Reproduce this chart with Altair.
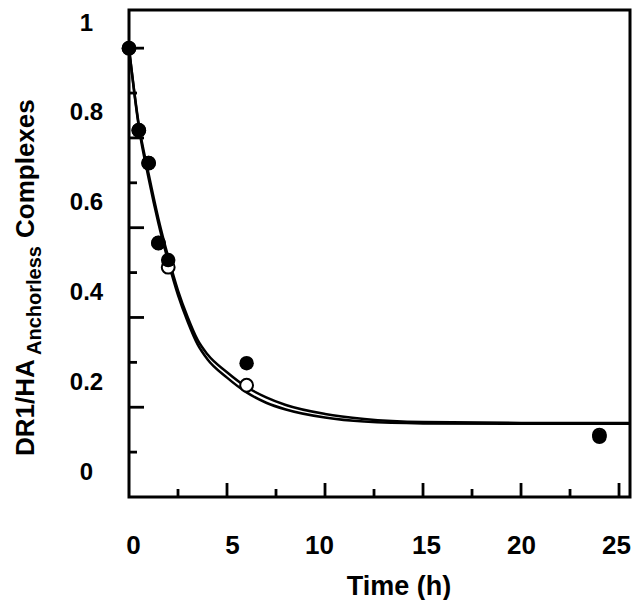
import altair as alt
import pandas as pd

# ---- data ----
pt_t = [0, 0.5, 1, 1.5, 2, 6, 24]
filled_v = [1.0, 0.817, 0.744, 0.566, 0.528, 0.298, 0.134]
open_v = [1.0, 0.817, 0.744, 0.566, 0.512, 0.249, 0.138]

fit_t = [0, 0.5, 1, 1.5, 2, 2.5, 3, 3.5, 4, 5, 6, 7, 8, 10, 12, 15, 20, 26]
fit_filled = [1.0, 0.83, 0.72, 0.62, 0.535, 0.46, 0.40, 0.35, 0.318, 0.278,
              0.245, 0.222, 0.205, 0.185, 0.174, 0.167, 0.165, 0.165]
fit_open = [1.0, 0.825, 0.71, 0.61, 0.525, 0.45, 0.39, 0.34, 0.307, 0.266,
            0.233, 0.21, 0.195, 0.177, 0.168, 0.164, 0.163, 0.163]

x_labels = [0, 5, 10, 15, 20, 25]
x_label_shift = [4, 5, -6, 3, 0, -3]
x_major = [5, 10, 15, 20, 25]
x_minor = [2.5, 7.5, 12.5, 17.5, 22.5]
y_labels = [0, 0.2, 0.4, 0.6, 0.8, 1.0]
y_major = [0.2, 0.4, 0.6, 0.8, 1.0]
y_minor = [0.1, 0.3, 0.5, 0.7, 0.9]

X_MAX = 25.56
Y_MAX = 1.085
W, H = 501, 487
FONT = "Liberation Sans"

xs = alt.Scale(domain=[0, X_MAX], nice=False, zero=False)
ys = alt.Scale(domain=[0, Y_MAX], nice=False, zero=False)

pts = pd.DataFrame({"t": pt_t, "filled": filled_v, "open": open_v})
fits = pd.DataFrame({"t": fit_t, "filled": fit_filled, "open": fit_open})

def X(f):
    return alt.X(f, scale=xs, title=None)

def Y(f):
    return alt.Y(f, scale=ys, title=None)

line_f = alt.Chart(fits).mark_line(color="black", strokeWidth=2.5, interpolate="monotone", clip=True).encode(
    x=X("t:Q"), y=Y("filled:Q"))
line_o = alt.Chart(fits).mark_line(color="black", strokeWidth=2.5, interpolate="monotone", clip=True).encode(
    x=X("t:Q"), y=Y("open:Q"))

open_pts = alt.Chart(pts).mark_point(shape="circle", filled=True, fill="white", stroke="black",
                                      strokeWidth=2, size=165, opacity=1).encode(
    x=X("t:Q"), y=Y("open:Q"))

x_offset = {
    "condition": [{"test": f"datum.value == {v}", "value": s} for v, s in zip(x_labels, x_label_shift) if s != 0],
    "value": 0,
}

filled_pts = alt.Chart(pts).mark_point(shape="circle", filled=True, color="black", size=210, opacity=1).encode(
    x=alt.X("t:Q", scale=xs, title=None,
            axis=alt.Axis(values=x_labels, ticks=False, tickSize=0, domain=False, grid=False,
                          labelFont=FONT, labelFontSize=26, labelFontWeight="bold", labelColor="black",
                          labelBaseline="alphabetic", labelPadding=56, labelFlush=False,
                          labelOffset=x_offset)),
    y=alt.Y("filled:Q", scale=ys, title=None,
            axis=alt.Axis(values=y_labels, format="~g", ticks=False, tickSize=0, domain=False, grid=False,
                          labelFont=FONT, labelFontSize=24, labelFontWeight="bold", labelColor="black",
                          labelAlign="center", labelBaseline="alphabetic", labelPadding=43,
                          labelOffset=-18, labelFlush=False)))

yt_major = alt.Chart(pd.DataFrame({"v": y_major})).mark_rule(color="black", strokeWidth=2.8).encode(
    y=Y("v:Q"), x=alt.value(0), x2=alt.value(15))
yt_minor = alt.Chart(pd.DataFrame({"v": y_minor})).mark_rule(color="black", strokeWidth=2.8).encode(
    y=Y("v:Q"), x=alt.value(0), x2=alt.value(8))
xt_major = alt.Chart(pd.DataFrame({"t": x_major})).mark_rule(color="black", strokeWidth=2.8).encode(
    x=X("t:Q"), y=alt.value(H), y2=alt.value(H - 14))
xt_minor = alt.Chart(pd.DataFrame({"t": x_minor})).mark_rule(color="black", strokeWidth=2.8).encode(
    x=X("t:Q"), y=alt.value(H), y2=alt.value(H - 8))

one = pd.DataFrame({"a": [0]})
def label(txt, x, y, size, angle=0, align="left"):
    return alt.Chart(one).mark_text(text=txt, font=FONT, fontSize=size, fontWeight="bold", color="black",
                                    angle=angle, align=align, baseline="alphabetic").encode(
        x=alt.value(x), y=alt.value(y))

t1 = label("DR1/HA", -95, 446, 26, angle=270)
t2 = label("Anchorless", -88, 345, 20, angle=270)
t3 = label("Complexes", -95, 228, 26, angle=270)
t4 = label("Time (h)", 270, 585, 27, align="center")

chart = alt.layer(
    yt_major, yt_minor, xt_major, xt_minor, line_f, line_o, open_pts, filled_pts, t1, t2, t3, t4
).properties(
    width=W, height=H,
    autosize=alt.AutoSizeParams(type="none"),
    padding={"left": 121, "top": 2, "right": 2, "bottom": 103},
    background="white",
).configure_view(stroke="black", strokeWidth=3)

chart.save("out.html", embed_options={"renderer": "svg", "actions": False})
